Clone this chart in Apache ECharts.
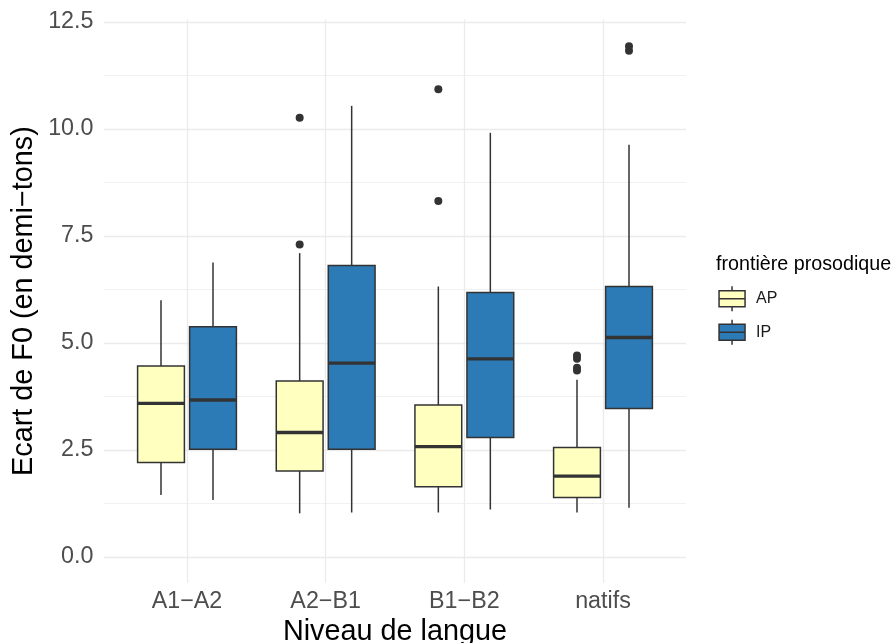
<!DOCTYPE html>
<html><head><meta charset="utf-8">
<script src="https://cdn.jsdelivr.net/npm/echarts@6/dist/echarts.min.js"></script>
<style>html,body{margin:0;padding:0;background:#fff}#c{width:893px;height:643px}</style>
</head><body><div id="c"></div>
<script>
const categories = ['A1−A2', 'A2−B1', 'B1−B2', 'natifs'];
const groupNames = ['AP', 'IP'];
const yTickLabels = ['0.0', '2.5', '5.0', '7.5', '10.0', '12.5'];
// [lower whisker, Q1, median, Q3, upper whisker] per category
const apStats = [
  [1.45, 2.21, 3.59, 4.46, 6.00],
  [1.02, 2.01, 2.91, 4.11, 7.10],
  [1.04, 1.64, 2.58, 3.55, 6.32],
  [1.04, 1.39, 1.89, 2.56, 4.14]
];
const ipStats = [
  [1.33, 2.52, 3.67, 5.38, 6.88],
  [1.04, 2.52, 4.53, 6.81, 10.54],
  [1.11, 2.79, 4.63, 6.18, 9.91],
  [1.15, 3.47, 5.13, 6.32, 9.63]
];
// [category index, value]
const apOutliers = [[1, 7.30], [1, 10.26], [2, 8.32], [2, 10.93], [3, 4.36], [3, 4.42], [3, 4.63], [3, 4.71]];
const ipOutliers = [[3, 11.83], [3, 11.93]];

const FONT = '"Liberation Sans", Arial, Helvetica, sans-serif';
const COLORS = {AP: '#FFFFBF', IP: '#2C7BB6'};
const DODGE = 0.1875, BOXW = 0.3375;
const ICON = 'path://M13,0L13,4.5M0,4.5L26,4.5L26,20.5L0,20.5ZM0,12.5L26,12.5M13,20.5L13,25';

function boxRenderer(offsetFrac) {
  return function (params, api) {
    const i = api.value(0);
    const band = api.coord([1, 0])[0] - api.coord([0, 0])[0];
    const cx = api.coord([i, 0])[0] + offsetFrac * band;
    const w = BOXW * band;
    const y = k => api.coord([i, api.value(k)])[1];
    const yLo = y(1), yQ1 = y(2), yMed = y(3), yQ3 = y(4), yHi = y(5);
    const stroke = '#333333';
    return {type: 'group', children: [
      {type: 'line', shape: {x1: cx, y1: yHi, x2: cx, y2: yQ3}, style: {stroke: stroke, lineWidth: 1.5}},
      {type: 'line', shape: {x1: cx, y1: yQ1, x2: cx, y2: yLo}, style: {stroke: stroke, lineWidth: 1.5}},
      {type: 'rect', shape: {x: cx - w / 2, y: yQ3, width: w, height: yQ1 - yQ3}, style: {fill: api.visual('color'), stroke: stroke, lineWidth: 1.5}},
      {type: 'line', shape: {x1: cx - w / 2, y1: yMed, x2: cx + w / 2, y2: yMed}, style: {stroke: stroke, lineWidth: 3.4}}
    ]};
  };
}
function outlierRenderer(offsetFrac) {
  return function (params, api) {
    const i = api.value(0);
    const band = api.coord([1, 0])[0] - api.coord([0, 0])[0];
    const p = api.coord([i, api.value(1)]);
    return {type: 'circle', shape: {cx: p[0] + offsetFrac * band, cy: p[1], r: 4}, style: {fill: '#333333'}};
  };
}

const chart = echarts.init(document.getElementById('c'), null, {renderer: 'canvas'});
chart.setOption({
  animation: false,
  backgroundColor: '#ffffff',
  textStyle: {fontFamily: FONT},
  title: {text: 'frontière prosodique', left: 716, top: 255, padding: 0,
    textStyle: {fontSize: 19.7, fontWeight: 'normal', color: '#000000', fontFamily: FONT}},
  legend: {
    orient: 'vertical', left: 718.3, top: 285.5, padding: 0, itemWidth: 26, itemHeight: 25, itemGap: 7,
    selectedMode: false, textStyle: {fontSize: 16, color: '#1a1a1a', fontFamily: FONT, padding: [0, 0, 0, 6]},
    data: groupNames.map(n => ({name: n, icon: ICON, itemStyle: {color: COLORS[n], borderColor: '#333333', borderWidth: 1.5}}))
  },
  grid: [
    {left: 104, top: 22, width: 582, height: 535, outerBoundsMode: 'none'},
    {left: 187, top: 19.4, width: 416, height: 563.3, outerBoundsMode: 'none'}
  ],
  xAxis: [
    {gridIndex: 0, type: 'value', show: false, min: 0, max: 1},
    {gridIndex: 1, type: 'category', data: categories, boundaryGap: false,
      axisLine: {show: false}, axisTick: {show: false},
      axisLabel: {fontSize: 23.3, color: '#4D4D4D', margin: 7, fontFamily: FONT},
      splitLine: {show: true, lineStyle: {color: '#EBEBEB', width: 1.3}},
      name: 'Niveau de langue', nameLocation: 'middle', nameGap: 24,
      nameTextStyle: {fontSize: 28.8, color: '#000000', fontFamily: FONT}}
  ],
  yAxis: [
    {gridIndex: 0, type: 'value', min: 0, max: 12.5, interval: 2.5,
      axisLine: {show: false}, axisTick: {show: false},
      axisLabel: {fontSize: 23.3, color: '#4D4D4D', margin: 10.5, fontFamily: FONT,
        formatter: (v) => yTickLabels[Math.round(v / 2.5)]},
      splitLine: {show: true, lineStyle: {color: '#EBEBEB', width: 1.3}},
      minorTick: {show: false, splitNumber: 2},
      minorSplitLine: {show: true, lineStyle: {color: '#EBEBEB', width: 0.7}}},
    {gridIndex: 1, type: 'value', min: -0.6, max: 12.56,
      axisLine: {show: false}, axisTick: {show: false}, axisLabel: {show: false}, splitLine: {show: false},
      name: 'Ecart de F0 (en demi−tons)', nameLocation: 'middle', nameGap: 148,
      nameTextStyle: {fontSize: 28.8, color: '#000000', fontFamily: FONT}}
  ],
  series: [
    {name: 'AP', type: 'custom', xAxisIndex: 1, yAxisIndex: 1, renderItem: boxRenderer(-DODGE),
      itemStyle: {color: COLORS.AP}, encode: {x: 0, y: [1, 2, 3, 4, 5]},
      data: apStats.map((s, i) => [i].concat(s))},
    {name: 'IP', type: 'custom', xAxisIndex: 1, yAxisIndex: 1, renderItem: boxRenderer(DODGE),
      itemStyle: {color: COLORS.IP}, encode: {x: 0, y: [1, 2, 3, 4, 5]},
      data: ipStats.map((s, i) => [i].concat(s))},
    {name: 'AP outliers', type: 'custom', xAxisIndex: 1, yAxisIndex: 1, renderItem: outlierRenderer(-DODGE),
      encode: {x: 0, y: 1}, data: apOutliers},
    {name: 'IP outliers', type: 'custom', xAxisIndex: 1, yAxisIndex: 1, renderItem: outlierRenderer(DODGE),
      encode: {x: 0, y: 1}, data: ipOutliers}
  ]
});
</script></body></html>
